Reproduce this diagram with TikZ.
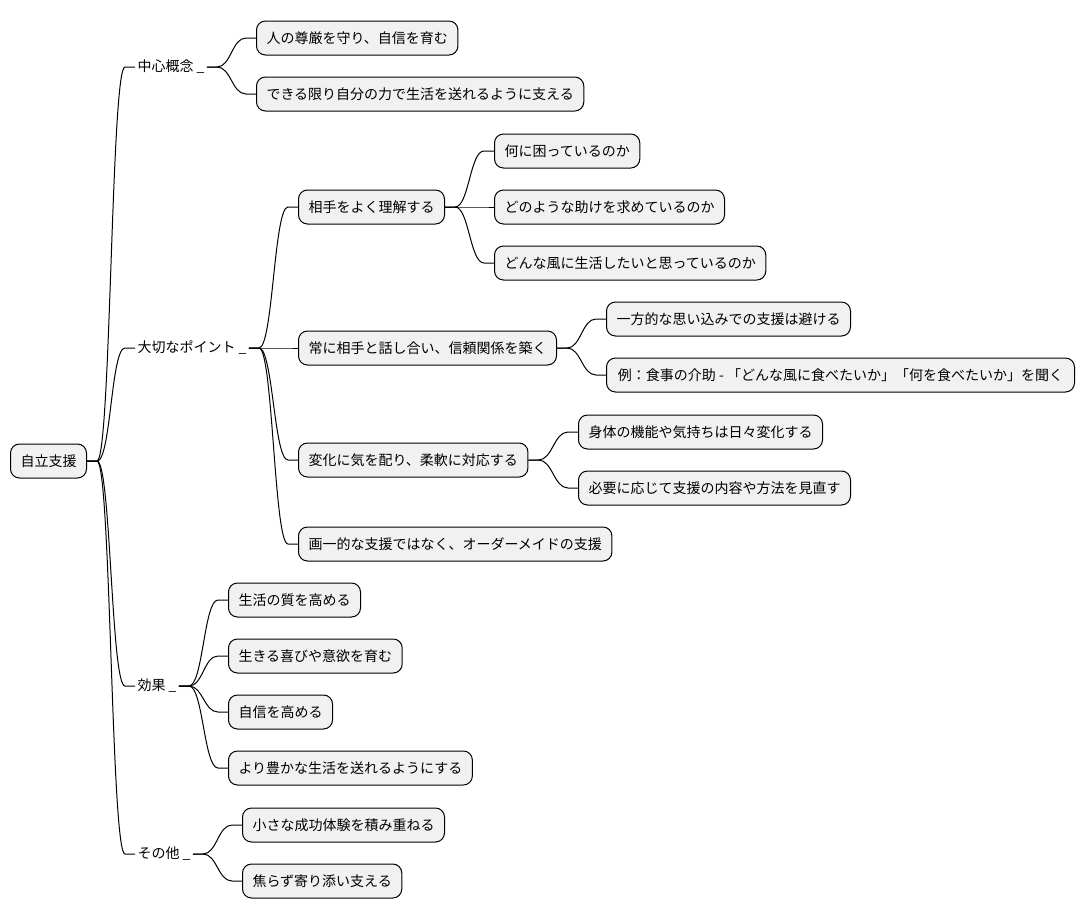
\documentclass[tikz,border=0pt]{standalone}
\usepackage{fontspec}
\setmainfont{Noto Sans CJK JP}
\usepackage{tikz}
\usetikzlibrary{calc,positioning}

\definecolor{boxfill}{HTML}{F1F1F1}

\begin{document}
\begin{tikzpicture}[x=1pt, y=-1pt, line width=1pt,
  font=\fontsize{14pt}{17pt}\selectfont,
  topic/.style={draw=black, fill=boxfill, rounded corners=9pt, anchor=west,
    minimum height=34pt, inner xsep=10pt, inner ysep=0pt},
  heading/.style={anchor=west, inner xsep=2pt, inner ysep=0pt},
  branch/.style={draw=black, line width=1pt}]
  \useasboundingbox (0,0) rectangle (1085,921);

  % root and first level
  \node[topic] (root) at (10,461) {自立支援};
  \node[heading] (cc) at (135,67) {中心概念 \_};
  \node[heading] (pt) at (135,348) {大切なポイント \_};
  \node[heading] (ef) at (135,686) {効果 \_};
  \node[heading] (ot) at (135,854) {その他 \_};

  % 中心概念
  \node[topic] (cc1) at (256,38) {人の尊厳を守り、自信を育む};
  \node[topic] (cc2) at (256,94) {できる限り自分の力で生活を送れるように支える};

  % 大切なポイント
  \node[topic] (pt1) at (298,207) {相手をよく理解する};
  \node[topic] (pt11) at (494,151) {何に困っているのか};
  \node[topic] (pt12) at (494,207) {どのような助けを求めているのか};
  \node[topic] (pt13) at (494,263) {どんな風に生活したいと思っているのか};
  \node[topic] (pt2) at (298,348) {常に相手と話し合い、信頼関係を築く};
  \node[topic] (pt21) at (606,319) {一方的な思い込みでの支援は避ける};
  \node[topic, minimum width=468pt] (pt22) at (606,375) {例：食事の介助 - 「どんな風に食べたいか」「何を食べたいか」を聞く};
  \node[topic] (pt3) at (298,460) {変化に気を配り、柔軟に対応する};
  \node[topic] (pt31) at (578,432) {身体の機能や気持ちは日々変化する};
  \node[topic] (pt32) at (578,488) {必要に応じて支援の内容や方法を見直す};
  \node[topic] (pt4) at (298,544) {画一的な支援ではなく、オーダーメイドの支援};

  % 効果
  \node[topic] (ef1) at (228,600) {生活の質を高める};
  \node[topic] (ef2) at (228,656) {生きる喜びや意欲を育む};
  \node[topic] (ef3) at (228,712) {自信を高める};
  \node[topic] (ef4) at (228,768) {より豊かな生活を送れるようにする};

  % その他
  \node[topic] (ot1) at (242,825) {小さな成功体験を積み重ねる};
  \node[topic] (ot2) at (242,881) {焦らず寄り添い支える};

  % connectors
  \foreach \a/\b in {root/cc, root/pt, root/ef, root/ot,
                     cc/cc1, cc/cc2,
                     pt/pt1, pt/pt2, pt/pt3, pt/pt4,
                     pt1/pt11, pt1/pt12, pt1/pt13,
                     pt2/pt21, pt2/pt22, pt3/pt31, pt3/pt32,
                     ef/ef1, ef/ef2, ef/ef3, ef/ef4,
                     ot/ot1, ot/ot2}
    \draw[branch] (\a.east) -- ++(10,0)
      .. controls +(14,0) and +(-14,0) .. ($(\b.west)+(-10,0)$) -- (\b.west);
\end{tikzpicture}
\end{document}
